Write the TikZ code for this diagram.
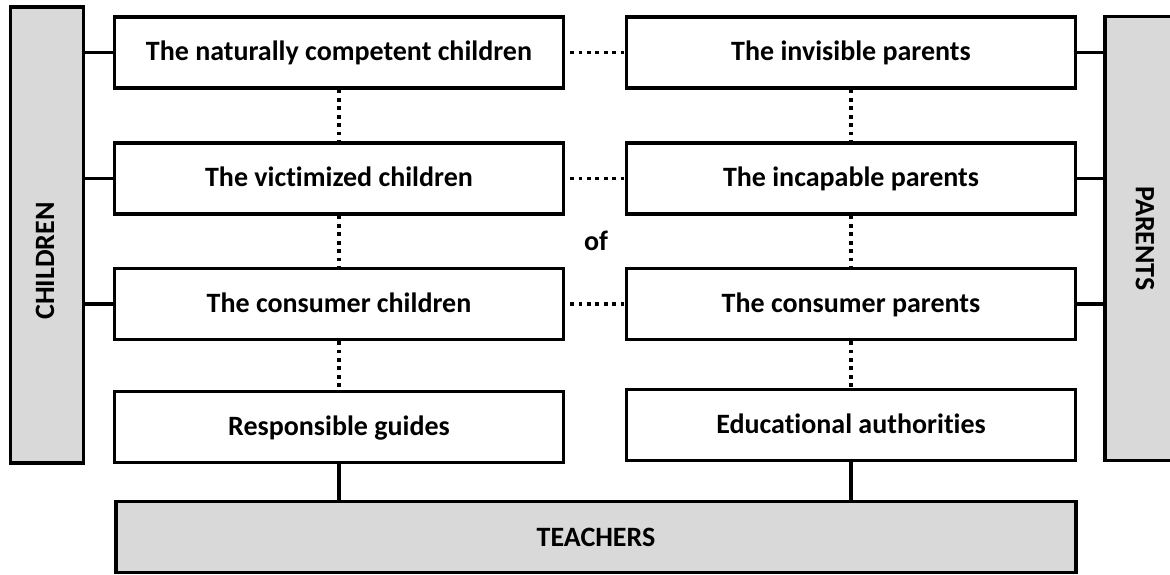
\documentclass[tikz,border=0pt]{standalone}
\usepackage{fontspec}
\setmainfont{Carlito}[Ligatures=NoCommon]
\begin{document}
\begin{tikzpicture}[
            x=0.5pt, y=-0.5pt,
            line width=1.65pt,
            font=\fontsize{14}{16}\selectfont\bfseries,
            box/.style={draw, minimum width=224.5pt, minimum height=35.5pt, inner sep=0pt,
                text height=10.5pt, text depth=2.5pt},
            graybar/.style={draw, fill=black!15, inner sep=0pt},
            dotline/.style={line width=1.9pt, dash pattern=on 1.9pt off 2.3pt}
        ]
        \useasboundingbox (0,0) rectangle (1170,574);

        \node[graybar, minimum width=36.5pt, minimum height=228pt] (kids) at (47,235) {};
        \node[rotate=90] (kidslbl) at (45,261) {CHILDREN};
        \node[graybar, minimum width=40pt, minimum height=222pt] (par) at (1145,238.5) {\rotatebox{-90}{PARENTS}};
        \node[graybar, minimum width=480pt, minimum height=35.5pt] (teach) at (596,537) {TEACHERS};

        \node[box] (nat) at (339,52.5) {The naturally competent children};
        \node[box] (vic) at (339,178.5) {The victimized children};
        \node[box] (cons) at (339,304) {The consumer children};
        \node[box] (guide) at (339,427) {Responsible guides};

        \node[box] (inv) at (851,52.5) {The invisible parents};
        \node[box] (incap) at (851,178.5) {The incapable parents};
        \node[box] (cpar) at (851,304) {The consumer parents};
        \node[box] (auth) at (851,425) {Educational authorities};

        \node (of) at (596,241) {of};

        \draw (kids.east |- nat.west) -- (nat.west);
        \draw (kids.east |- vic.west) -- (vic.west);
        \draw (kids.east |- cons.west) -- (cons.west);

        \draw (inv.east) -- (inv.east -| par.west);
        \draw (incap.east) -- (incap.east -| par.west);
        \draw (cpar.east) -- (cpar.east -| par.west);

        \draw[dotline, shorten <=2.5pt] (nat.east) -- (inv.west);
        \draw[dotline, shorten <=2.5pt] (vic.east) -- (incap.west);
        \draw[dotline, shorten <=2.5pt] (cons.east) -- (cpar.west);

        \draw[dotline] (nat.south) -- (vic.north);
        \draw[dotline] (vic.south) -- (cons.north);
        \draw[dotline] (cons.south) -- (guide.north);
        \draw[dotline] (inv.south) -- (incap.north);
        \draw[dotline] (incap.south) -- (cpar.north);
        \draw[dotline] (cpar.south) -- (auth.north);

        \draw (guide.south) -- (guide.south |- teach.north);
        \draw (auth.south) -- (auth.south |- teach.north);
    \end{tikzpicture}
\end{document}
